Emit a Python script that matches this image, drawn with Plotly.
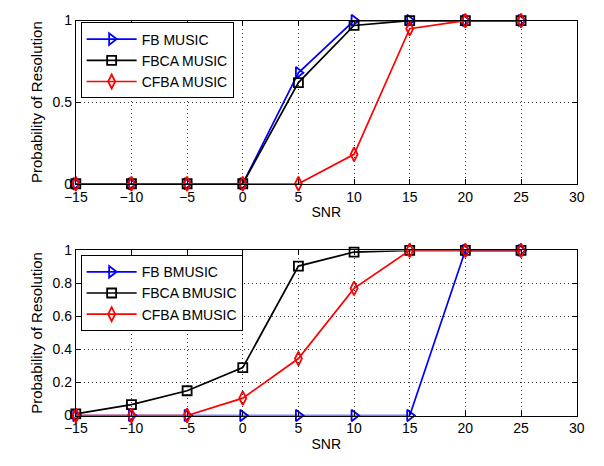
import plotly.graph_objects as go

# SNR sweep (dB)
snr = [-15, -10, -5, 0, 5, 10, 15, 20, 25]

# Upper panel: MUSIC variants
fb_music = [0, 0, 0, 0, 0.68, 1.0, 1.0, 1.0, 1.0]
fbca_music = [0, 0, 0, 0, 0.62, 0.97, 1.0, 1.0, 1.0]
cfba_music = [0, 0, 0, 0, 0, 0.18, 0.95, 1.0, 1.0]

# Lower panel: BMUSIC variants
fb_bmusic = [0, 0, 0, 0, 0, 0, 0, 1.0, 1.0]
fbca_bmusic = [0.01, 0.066, 0.15, 0.29, 0.905, 0.99, 1.0, 1.0, 1.0]
cfba_bmusic = [0, 0, 0, 0.105, 0.345, 0.77, 1.0, 1.0, 1.0]

top_names = ["FB MUSIC", "FBCA MUSIC", "CFBA MUSIC"]
bot_names = ["FB BMUSIC", "FBCA BMUSIC", "CFBA BMUSIC"]

colors = ["#0000ff", "#000000", "#ff0000"]
symbols = ["triangle-right-open", "square-open", "diamond-tall-open"]
sizes = [10, 9, 10]

FONT = "Liberation Sans, Arial, sans-serif"

fig = go.Figure()


def add_series(names, series, xa, ya, leg):
    for i, (name, ys) in enumerate(zip(names, series)):
        fig.add_trace(go.Scatter(
            x=snr, y=ys, name=name, mode="lines+markers",
            line=dict(color=colors[i], width=1.7),
            marker=dict(symbol=symbols[i], size=sizes[i], color=colors[i],
                        line=dict(width=1.8, color=colors[i])),
            xaxis=xa, yaxis=ya, legend=leg, cliponaxis=False,
        ))


add_series(top_names, [fb_music, fbca_music, cfba_music], "x", "y", "legend")
add_series(bot_names, [fb_bmusic, fbca_bmusic, cfba_bmusic], "x2", "y2", "legend2")

W, H = 604, 466


def px_x(p):
    return p / W


def px_y(p):
    return 1 - p / H


xdom = [px_x(66), px_x(584)]
top_dom = [px_y(182), px_y(13)]
bot_dom = [px_y(422), px_y(251)]

axis_common = dict(
    showline=True, linecolor="black", linewidth=1, mirror="ticks",
    ticks="inside", ticklen=5, tickcolor="black",
    showgrid=True, gridcolor="rgba(0,0,0,0.8)", griddash="1px,3px", gridwidth=1,
    zeroline=False, tickfont=dict(family=FONT, size=14, color="black"),
)

xticks = [-15, -10, -5, 0, 5, 10, 15, 20, 25, 30]
ytitle = dict(text="Probability of Resolution", standoff=6, font=dict(size=15))
xtitle = dict(text="SNR", standoff=3, font=dict(size=14))

legend_common = dict(xanchor="left", yanchor="top", bgcolor="white",
                     bordercolor="black", borderwidth=1, itemwidth=50,
                     font=dict(family=FONT, size=14), tracegroupgap=0)

fig.update_layout(
    width=W, height=H,
    margin=dict(l=0, r=0, t=0, b=0),
    paper_bgcolor="white", plot_bgcolor="white",
    font=dict(family=FONT, size=14, color="black"),
    xaxis=dict(domain=xdom, range=[-15, 30], tickvals=xticks, anchor="y",
               title=xtitle, **axis_common),
    yaxis=dict(domain=top_dom, range=[0, 1], tickvals=[0, 0.5, 1],
               ticktext=["0", "0.5", "1"], anchor="x", title=ytitle, **axis_common),
    xaxis2=dict(domain=xdom, range=[-15, 30], tickvals=xticks, anchor="y2",
                title=xtitle, **axis_common),
    yaxis2=dict(domain=bot_dom, range=[0, 1], tickvals=[0, 0.2, 0.4, 0.6, 0.8, 1],
                ticktext=["0", "0.2", "0.4", "0.6", "0.8", "1"], anchor="x2",
                title=ytitle, **axis_common),
    legend=dict(x=px_x(71), y=px_y(15), **legend_common),
    legend2=dict(x=px_x(71), y=px_y(256), **legend_common),
)

# Let the figure fill the page exactly (no default body margin or scrollbars)
fig.write_html(
    "out.html",
    post_script="document.body.style.margin='0';document.body.style.overflow='hidden';",
)
